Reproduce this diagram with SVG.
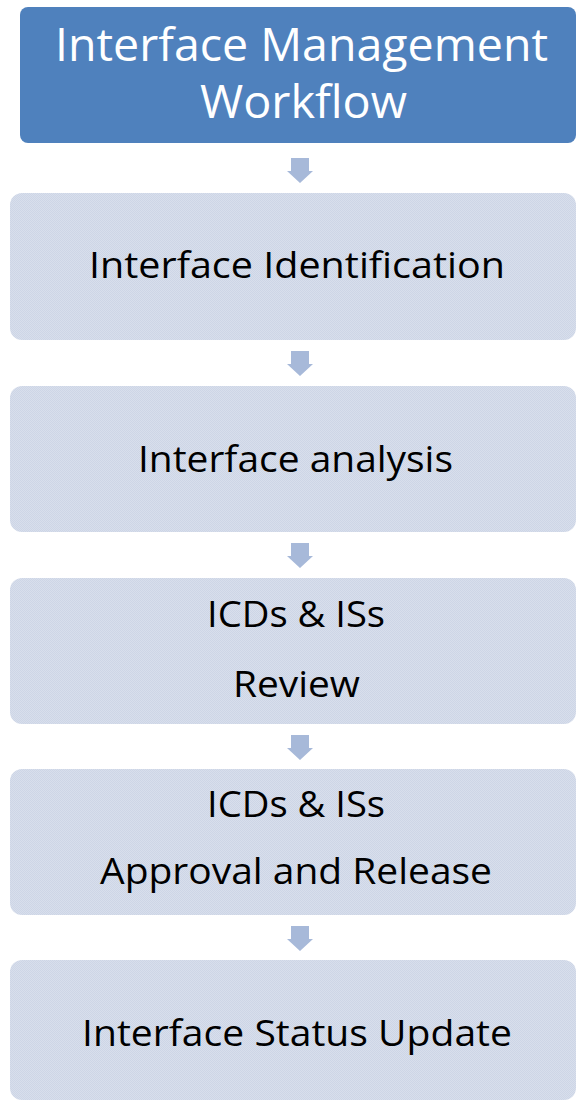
<svg xmlns="http://www.w3.org/2000/svg" width="577" height="1102" viewBox="0 0 577 1102">
<defs>
<pattern id="dither" width="2" height="2" patternUnits="userSpaceOnUse">
<rect width="2" height="2" fill="#D8DFEC"/>
<rect width="1" height="1" fill="#CDD5E6"/>
<rect x="1" y="1" width="1" height="1" fill="#CDD5E6"/>
</pattern>
<path id="arr" d="M-9,0 H9 V13 H13 L0,25 L-13,13 H-9 Z"/>
</defs>
<style>
.box{fill:url(#dither);}
.title{fill:#4F81BD;}
.t{font-family:"Open Sans","Liberation Sans",sans-serif;font-size:36px;fill:#000;}
.tw{font-family:"Open Sans","Liberation Sans",sans-serif;font-size:45px;fill:#fff;}
.arrow{fill:#A7B9D9;}
</style>
<rect width="577" height="1102" fill="#fff"/>
<g id="title">
<rect class="title" x="20" y="7" width="556" height="136" rx="8"/>
<text class="tw" x="55" y="61" textLength="493" lengthAdjust="spacingAndGlyphs">Interface Management</text>
<text class="tw" x="200" y="118" textLength="207" lengthAdjust="spacingAndGlyphs">Workflow</text>
</g>
<g id="connectors">
<use href="#arr" class="arrow" x="300" y="158"/>
<use href="#arr" class="arrow" x="300" y="351"/>
<use href="#arr" class="arrow" x="300" y="543"/>
<use href="#arr" class="arrow" x="300" y="735"/>
<use href="#arr" class="arrow" x="300" y="926"/>
</g>
<g id="n1">
<rect class="box" x="10" y="193" width="566" height="147" rx="12"/>
<text class="t" x="89" y="278" textLength="416" lengthAdjust="spacingAndGlyphs">Interface Identification</text>
</g>
<g id="n2">
<rect class="box" x="10" y="386" width="566" height="146" rx="12"/>
<text class="t" x="138" y="472" textLength="315" lengthAdjust="spacingAndGlyphs">Interface analysis</text>
</g>
<g id="n3">
<rect class="box" x="10" y="578" width="566" height="146" rx="12"/>
<text class="t" x="207" y="627" textLength="178" lengthAdjust="spacingAndGlyphs">ICDs &amp; ISs</text>
<text class="t" x="233" y="697" textLength="127" lengthAdjust="spacingAndGlyphs">Review</text>
</g>
<g id="n4">
<rect class="box" x="10" y="769" width="566" height="146" rx="12"/>
<text class="t" x="207" y="817" textLength="178" lengthAdjust="spacingAndGlyphs">ICDs &amp; ISs</text>
<text class="t" x="100" y="884" textLength="392" lengthAdjust="spacingAndGlyphs">Approval and Release</text>
</g>
<g id="n5">
<rect class="box" x="10" y="960" width="566" height="140" rx="12"/>
<text class="t" x="82" y="1046" textLength="430" lengthAdjust="spacingAndGlyphs">Interface Status Update</text>
</g>
</svg>
